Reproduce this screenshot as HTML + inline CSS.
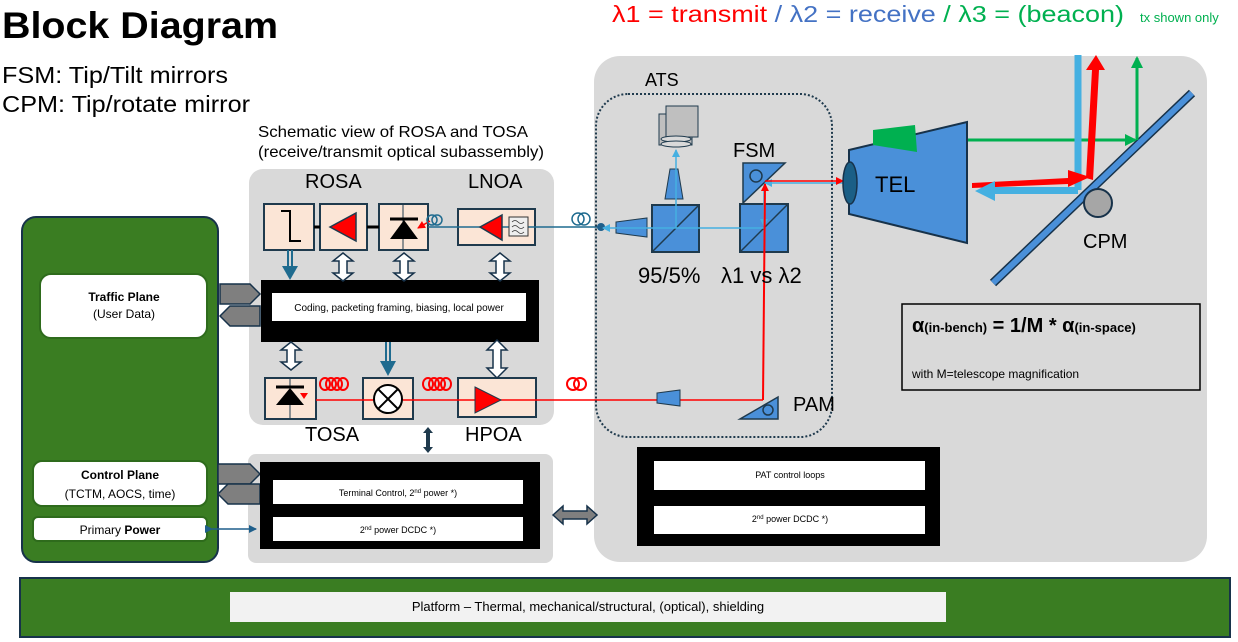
<!DOCTYPE html>
<html><head><meta charset="utf-8"><style>
html,body{margin:0;padding:0;background:#fff;width:1238px;height:642px;overflow:hidden}
text{font-family:"Liberation Sans",sans-serif}
</style></head><body>
<svg width="1238" height="642" viewBox="0 0 1238 642" xmlns="http://www.w3.org/2000/svg">
<defs>
<marker id="ar" markerWidth="8" markerHeight="8" refX="7" refY="4" orient="auto" markerUnits="userSpaceOnUse"><path d="M0,0 L8,4 L0,8z" fill="#ff0000"/></marker>
<marker id="ab" markerWidth="8" markerHeight="8" refX="7" refY="4" orient="auto" markerUnits="userSpaceOnUse"><path d="M0,0 L8,4 L0,8z" fill="#45b0e1"/></marker>
<marker id="ag" markerWidth="12" markerHeight="12" refX="10" refY="6" orient="auto" markerUnits="userSpaceOnUse"><path d="M0,0 L12,6 L0,12z" fill="#00b050"/></marker>
<marker id="ad" markerWidth="8" markerHeight="8" refX="7" refY="4" orient="auto" markerUnits="userSpaceOnUse"><path d="M0,0 L8,4 L0,8z" fill="#1f5f8b"/></marker>
</defs>

<!-- titles -->
<text x="2" y="38" font-size="37" font-weight="bold" textLength="276" lengthAdjust="spacingAndGlyphs">Block Diagram</text>
<text x="2" y="83" font-size="23" textLength="226" lengthAdjust="spacingAndGlyphs">FSM: Tip/Tilt mirrors</text>
<text x="2" y="112" font-size="23" textLength="248" lengthAdjust="spacingAndGlyphs">CPM: Tip/rotate mirror</text>
<text x="612" y="22" font-size="23" textLength="512" lengthAdjust="spacingAndGlyphs"><tspan fill="#ff0000">λ1 = transmit</tspan><tspan fill="#4472c4"> / λ2 = receive</tspan><tspan fill="#00b050"> / λ3 = (beacon)</tspan></text>
<text x="1140" y="22" font-size="13" fill="#00b050">tx shown only</text>
<text x="258" y="137" font-size="16" textLength="270" lengthAdjust="spacingAndGlyphs">Schematic view of ROSA and TOSA</text>
<text x="258" y="157" font-size="16" textLength="286" lengthAdjust="spacingAndGlyphs">(receive/transmit optical subassembly)</text>

<!-- grey panels -->
<rect x="249" y="169" width="305" height="256" rx="14" fill="#d9d9d9"/>
<rect x="594" y="56" width="613" height="506" rx="26" fill="#d9d9d9"/>
<rect x="248" y="454" width="305" height="109" rx="8" fill="#d9d9d9"/>

<!-- green left -->
<rect x="22" y="217" width="196" height="345" rx="14" fill="#3a7d22" stroke="#17324a" stroke-width="2"/>
<rect x="40" y="274" width="167" height="64" rx="11" fill="#fff" stroke="#2e6b1c" stroke-width="2"/>
<text x="124" y="301" font-size="12" font-weight="bold" text-anchor="middle">Traffic Plane</text>
<text x="124" y="318" font-size="12" text-anchor="middle">(User Data)</text>
<rect x="33" y="461" width="174" height="45" rx="9" fill="#fff" stroke="#2e6b1c" stroke-width="2"/>
<text x="120" y="479" font-size="12" font-weight="bold" text-anchor="middle">Control Plane</text>
<text x="120" y="498" font-size="12" text-anchor="middle">(TCTM, AOCS, time)</text>
<rect x="33" y="517" width="174" height="24" rx="5" fill="#fff" stroke="#2e6b1c" stroke-width="2"/>
<text x="120" y="534" font-size="12" text-anchor="middle">Primary <tspan font-weight="bold">Power</tspan></text>

<!-- platform -->
<rect x="20" y="578" width="1210" height="59" fill="#3a7d22" stroke="#17324a" stroke-width="2"/>
<rect x="230" y="592" width="716" height="30" fill="#f2f2f2"/>
<text x="588" y="611" font-size="13" text-anchor="middle">Platform – Thermal, mechanical/structural, (optical), shielding</text>

<!-- chevrons -->
<g fill="#7f7f7f" stroke="#17324a" stroke-width="1.5">
<path d="M220,284 L250,284 L260,294 L250,304 L220,304z"/>
<path d="M260,306 L230,306 L220,316 L230,326 L260,326z"/>
<path d="M218,464 L250,464 L260,474 L250,484 L218,484z"/>
<path d="M260,484 L228,484 L218,494 L228,504 L260,504z"/>
</g>

<!-- coding box -->
<rect x="261" y="280" width="278" height="62" fill="#000"/>
<rect x="272" y="293" width="254" height="28" fill="#fff"/>
<text x="399" y="311" font-size="10" text-anchor="middle">Coding, packeting framing, biasing, local power</text>

<!-- ROSA row -->
<g stroke="#1f3a4d" stroke-width="2" fill="#fbe5d6">
<rect x="264" y="204" width="50" height="46"/>
<rect x="320" y="204" width="47" height="46"/>
<rect x="379" y="204" width="49" height="46"/>
<rect x="458" y="209" width="77" height="36"/>
<rect x="265" y="378" width="51" height="41"/>
<rect x="363" y="378" width="50" height="41"/>
<rect x="458" y="378" width="78" height="39"/>
</g>
<line x1="314" y1="227" x2="320" y2="227" stroke="#000" stroke-width="3"/>
<line x1="367" y1="227" x2="379" y2="227" stroke="#000" stroke-width="3"/>
<path d="M281,211 L290,211 L290,241 L301,241" fill="none" stroke="#000" stroke-width="2"/>
<path d="M330,227 L356,213 L356,241z" fill="#f00" stroke="#1f3a4d" stroke-width="1.5"/>
<line x1="403" y1="205" x2="403" y2="249" stroke="#1f3a4d" stroke-width="1"/>
<line x1="390" y1="219" x2="418" y2="219" stroke="#000" stroke-width="3"/>
<path d="M390,239 L418,239 L404,220z" fill="#000"/>
<line x1="428" y1="227" x2="601" y2="227" stroke="#1f6b8f" stroke-width="1.5"/>
<line x1="430" y1="221" x2="418" y2="228" stroke="#f00" stroke-width="1.5" marker-end="url(#ar)"/>
<path d="M480,227 L502,215 L502,240z" fill="#f00" stroke="#1f3a4d" stroke-width="1.5"/>
<rect x="509" y="217" width="19" height="19" fill="#eee" stroke="#333"/>
<path d="M512,222 q3,-3 6,0 t6,0 M512,227 q3,-3 6,0 t6,0 M512,232 q3,-3 6,0 t6,0" fill="none" stroke="#333" stroke-width="0.8"/>
<g fill="none" stroke="#1f6b8f" stroke-width="1.5">
<circle cx="432" cy="220" r="5"/><circle cx="437" cy="220" r="5"/>
<circle cx="578" cy="219" r="6"/><circle cx="584" cy="219" r="6"/>
</g>
<circle cx="601" cy="227" r="4" fill="#1f5f8b"/>

<!-- TOSA internals -->
<line x1="290" y1="379" x2="290" y2="418" stroke="#1f3a4d" stroke-width="1"/>
<line x1="276" y1="387" x2="304" y2="387" stroke="#000" stroke-width="3"/>
<path d="M276,405 L304,405 L290,388z" fill="#000"/>
<path d="M300,393 L308,393 L304,399z" fill="#f00"/>
<line x1="316" y1="400" x2="763" y2="400" stroke="#f00" stroke-width="1.5"/>
<circle cx="388" cy="399" r="14" fill="#fff" stroke="#000" stroke-width="2"/>
<path d="M378,389 L398,409 M398,389 L378,409" stroke="#000" stroke-width="2"/>
<path d="M475,387 L501,400 L475,413z" fill="#f00" stroke="#1f3a4d" stroke-width="1"/>
<g fill="none" stroke="#f00" stroke-width="2">
<ellipse cx="325" cy="384" rx="5" ry="6"/><ellipse cx="331" cy="384" rx="5" ry="6"/><ellipse cx="337" cy="384" rx="5" ry="6"/><ellipse cx="343" cy="384" rx="5" ry="6"/>
<ellipse cx="428" cy="384" rx="5" ry="6"/><ellipse cx="434" cy="384" rx="5" ry="6"/><ellipse cx="440" cy="384" rx="5" ry="6"/><ellipse cx="446" cy="384" rx="5" ry="6"/>
<ellipse cx="573" cy="384" rx="6" ry="6"/><ellipse cx="580" cy="384" rx="6" ry="6"/>
</g>

<!-- hollow double arrows -->
<g fill="#fff" stroke="#17324a" stroke-width="1.5">
<path id="dv" d="M343,253 L353,261 L347,261 L347,273 L353,273 L343,281 L333,273 L339,273 L339,261 L333,261z"/>
<use href="#dv" x="61"/>
<use href="#dv" x="157"/>
<use href="#dv" x="-52" y="89"/>
<path d="M497,340 L507,350 L501,350 L501,368 L507,368 L497,378 L487,368 L493,368 L493,350 L487,350z"/>
</g>
<g stroke="#1f6b8f" stroke-width="2"><line x1="288" y1="250" x2="288" y2="268"/><line x1="292" y1="250" x2="292" y2="268"/>
<line x1="386" y1="342" x2="386" y2="362"/><line x1="390" y1="342" x2="390" y2="362"/></g>
<path d="M282,266 L298,266 L290,280z" fill="#1f6b8f"/>
<path d="M380,361 L396,361 L388,376z" fill="#1f6b8f"/>

<text x="305" y="188" font-size="20">ROSA</text>
<text x="468" y="188" font-size="20">LNOA</text>
<text x="305" y="441" font-size="20">TOSA</text>
<text x="465" y="441" font-size="20">HPOA</text>

<path d="M428,427 L433,433 L430,433 L430,447 L433,447 L428,453 L423,447 L426,447 L426,433 L423,433z" fill="#1f3a4d"/>

<!-- bottom black -->
<rect x="260" y="462" width="280" height="87" fill="#000"/>
<rect x="273" y="480" width="250" height="24" fill="#fff"/>
<rect x="273" y="517" width="250" height="24" fill="#fff"/>
<text x="398" y="496" font-size="9" text-anchor="middle">Terminal Control, 2<tspan dy="-3" font-size="6">nd</tspan><tspan dy="3"> power *)</tspan></text>
<text x="398" y="533" font-size="9" text-anchor="middle">2<tspan dy="-3" font-size="6">nd</tspan><tspan dy="3"> power DCDC *)</tspan></text>
<line x1="212" y1="529" x2="256" y2="529" stroke="#1f5f8b" stroke-width="1.5" marker-end="url(#ad)" marker-start="url(#ad)"/>

<path d="M553,515 L563,506 L563,511 L587,511 L587,506 L597,515 L587,524 L587,519 L563,519 L563,524z" fill="#7f7f7f" stroke="#17324a" stroke-width="1.5"/>

<!-- PAT -->
<rect x="637" y="447" width="303" height="99" fill="#000"/>
<rect x="654" y="461" width="271" height="29" fill="#fff"/>
<rect x="654" y="506" width="271" height="28" fill="#fff"/>
<text x="790" y="478" font-size="9" text-anchor="middle">PAT control loops</text>
<text x="790" y="522" font-size="9" text-anchor="middle">2<tspan dy="-3" font-size="6">nd</tspan><tspan dy="3"> power DCDC *)</tspan></text>

<!-- ATS -->
<rect x="596" y="94" width="236" height="343" rx="32" fill="none" stroke="#1f3a4d" stroke-width="2" stroke-dasharray="2,2"/>
<text x="645" y="86" font-size="18">ATS</text>
<rect x="659" y="114" width="33" height="31" fill="#bfbfbf" stroke="#1f3a4d"/>
<rect x="666" y="106" width="32" height="31" fill="#bfbfbf" stroke="#1f3a4d"/>
<ellipse cx="676" cy="139" rx="15" ry="3" fill="#d9d9d9" stroke="#1f3a4d"/>
<ellipse cx="676" cy="144" rx="15" ry="3" fill="#d9d9d9" stroke="#1f3a4d"/>
<path d="M670,169 L678,169 L683,199 L665,199z" fill="#4a90d9" stroke="#1f3a4d"/>
<path d="M616,222 L647,218 L647,237 L616,233z" fill="#4a90d9" stroke="#1f3a4d"/>
<rect x="652" y="205" width="47" height="47" fill="#4a90d9" stroke="#1f3a4d" stroke-width="2"/>
<line x1="652" y1="252" x2="699" y2="205" stroke="#1f3a4d" stroke-width="1.5"/>
<rect x="740" y="204" width="48" height="48" fill="#4a90d9" stroke="#1f3a4d" stroke-width="2"/>
<line x1="740" y1="252" x2="788" y2="204" stroke="#1f3a4d" stroke-width="1.5"/>
<path d="M743,163 L785,163 L743,203z" fill="#4a90d9" stroke="#1f3a4d" stroke-width="1.5"/>
<circle cx="756" cy="176" r="6" fill="none" stroke="#1f3a4d" stroke-width="1.5"/>
<path d="M778,397 L778,419 L740,419z" fill="#4a90d9" stroke="#1f3a4d" stroke-width="1.5"/>
<circle cx="768" cy="410" r="5" fill="none" stroke="#1f3a4d" stroke-width="1.5"/>
<path d="M657,393 L680,390 L680,406 L657,403z" fill="#4a90d9" stroke="#1f3a4d"/>
<line x1="764" y1="228" x2="603" y2="228" stroke="#45b0e1" stroke-width="1.5" marker-end="url(#ab)"/>
<line x1="676" y1="228" x2="676" y2="150" stroke="#45b0e1" stroke-width="1.5" marker-end="url(#ab)"/>
<line x1="845" y1="183" x2="765" y2="183" stroke="#45b0e1" stroke-width="1.5" marker-end="url(#ab)"/>
<line x1="764" y1="184" x2="764" y2="226" stroke="#45b0e1" stroke-width="1.5" marker-end="url(#ab)"/>
<line x1="763" y1="400" x2="765" y2="184" stroke="#f00" stroke-width="2" marker-end="url(#ar)"/>
<line x1="765" y1="181" x2="843" y2="181" stroke="#f00" stroke-width="1.5" marker-end="url(#ar)"/>
<text x="638" y="283" font-size="22">95/5%</text>
<text x="721" y="283" font-size="22">λ1 vs λ2</text>
<text x="733" y="157" font-size="20">FSM</text>
<text x="793" y="411" font-size="20">PAM</text>

<!-- TEL -->
<path d="M849,150 L967,122 L967,243 L849,214z" fill="#4a90d9" stroke="#17324a" stroke-width="2"/>
<ellipse cx="850" cy="183" rx="7" ry="21" fill="#1b5f86" stroke="#17324a" stroke-width="1.5"/>
<path d="M873,130 L915,125 L917,152 L873,145z" fill="#00b050"/>
<text x="875" y="192" font-size="22">TEL</text>
<!-- CPM -->
<line x1="993" y1="283" x2="1192" y2="93" stroke="#17324a" stroke-width="9"/>
<line x1="993" y1="283" x2="1192" y2="93" stroke="#4a90d9" stroke-width="6"/>
<circle cx="1098" cy="203" r="14" fill="#a6a6a6" stroke="#17324a" stroke-width="2"/>
<text x="1083" y="248" font-size="20">CPM</text>
<line x1="968" y1="140" x2="1135" y2="140" stroke="#00b050" stroke-width="3" marker-end="url(#ag)"/>
<line x1="1137" y1="140" x2="1137" y2="58" stroke="#00b050" stroke-width="3" marker-end="url(#ag)"/>
<line x1="1078" y1="55" x2="1078" y2="190" stroke="#45b0e1" stroke-width="7"/>
<path d="M972,183 L1068,178 L1068,170 L1090,177 L1068,187 L1068,184 L972,188z" fill="#f00"/>
<path d="M1078,187 L995,187 L995,181 L975,191 L995,201 L995,194 L1078,194z" fill="#45b0e1"/>
<path d="M1086,178 L1092,70 L1086,70 L1096,55 L1105,70 L1099,70 L1093,180z" fill="#f00"/>

<!-- formula box -->
<rect x="902" y="304" width="298" height="86" fill="none" stroke="#000" stroke-width="1.5"/>
<text x="912" y="332" font-size="20" font-weight="bold">α<tspan font-size="13">(in-bench)</tspan> = 1/M * α<tspan font-size="13">(in-space)</tspan></text>
<text x="912" y="378" font-size="12">with M=telescope magnification</text>
</svg>
</body></html>
